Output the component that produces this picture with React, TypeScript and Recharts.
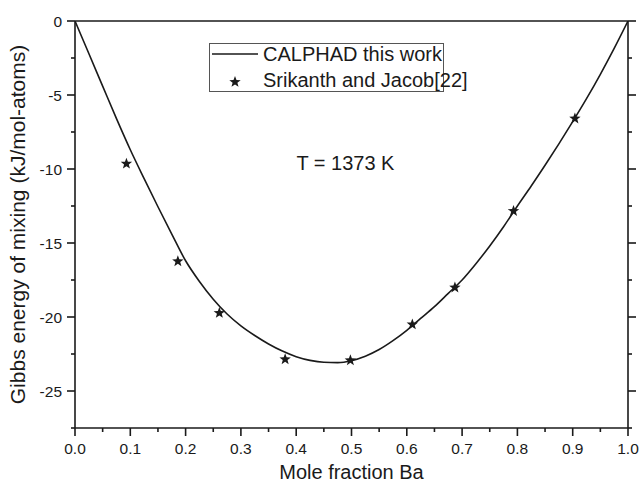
import React from "react";
import { ComposedChart, Line, Scatter, XAxis, YAxis, Legend, ReferenceDot } from "recharts";

document.body.style.margin = "0";

// CALPHAD curve
const xCalc = [
  0, 0.025, 0.05, 0.075, 0.1, 0.125, 0.15, 0.175, 0.2, 0.225, 0.25, 0.275, 0.3, 0.325,
  0.35, 0.375, 0.4, 0.425, 0.45, 0.475, 0.5, 0.525, 0.55, 0.575, 0.6, 0.625, 0.65, 0.675,
  0.7, 0.725, 0.75, 0.775, 0.8, 0.825, 0.85, 0.875, 0.9, 0.925, 0.95, 0.975, 1,
];
const gCalc = [
  0, -2.2, -4.4, -6.6, -8.7, -10.65, -12.55, -14.4, -16.2, -17.6, -18.8, -19.8, -20.6, -21.25,
  -21.82, -22.3, -22.68, -22.93, -23.06, -23.08, -22.95, -22.65, -22.2, -21.6, -20.9, -20.1, -19.3, -18.4,
  -17.5, -16.4, -15.2, -13.9, -12.5, -11.15, -9.75, -8.3, -6.8, -5.25, -3.6, -1.85, 0,
];

// Srikanth and Jacob [22]
const xExp = [0.093, 0.186, 0.261, 0.38, 0.498, 0.61, 0.687, 0.793, 0.904];
const gExp = [-9.64, -16.24, -19.73, -22.86, -22.93, -20.5, -18.01, -12.84, -6.59];

const xTicks = [
  0, 0.05, 0.1, 0.15, 0.2, 0.25, 0.3, 0.35, 0.4, 0.45, 0.5,
  0.55, 0.6, 0.65, 0.7, 0.75, 0.8, 0.85, 0.9, 0.95, 1,
];
const yTicks = [-27.5, -25, -22.5, -20, -17.5, -15, -12.5, -10, -7.5, -5, -2.5, 0];

const calcData = xCalc.map((x, i) => ({ x, y: gCalc[i] }));
const expData = xExp.map((x, i) => ({ x, y: gExp[i] }));

const FONT = "'Liberation Sans', Arial, Helvetica, sans-serif";
const INK = "#1a1a1a";
const AX = 1.6;

const isMajorX = (v: number) => Math.round(v * 100) % 10 === 0;
const isMajorY = (v: number) => Math.round(v * 10) % 50 === 0;

function BottomTick({ x, y, payload }: any) {
  const major = isMajorX(payload.value);
  return (
    <g>
      <line x1={x} x2={x} y1={y} y2={y + (major ? 8 : 4)} stroke={INK} strokeWidth={AX} />
      {major && (
        <text x={x} y={y + 26} textAnchor="middle" fontSize={15.5} fill={INK} fontFamily={FONT}>
          {payload.value.toFixed(1)}
        </text>
      )}
    </g>
  );
}

function TopTick({ x, y, payload }: any) {
  const major = isMajorX(payload.value);
  return <line x1={x} x2={x} y1={y} y2={y - (major ? 8 : 4)} stroke={INK} strokeWidth={AX} />;
}

function LeftTick({ x, y, payload }: any) {
  const major = isMajorY(payload.value);
  return (
    <g>
      <line x1={x} x2={x - (major ? 8 : 4)} y1={y} y2={y} stroke={INK} strokeWidth={AX} />
      {major && (
        <text x={x - 13} y={y} dy="0.36em" textAnchor="end" fontSize={15.5} fill={INK} fontFamily={FONT}>
          {String(payload.value)}
        </text>
      )}
    </g>
  );
}

function RightTick({ x, y, payload }: any) {
  const major = isMajorY(payload.value);
  return <line x1={x} x2={x + (major ? 8 : 4)} y1={y} y2={y} stroke={INK} strokeWidth={AX} />;
}

function starPoints(cx: number, cy: number, R: number, r: number) {
  const pts: string[] = [];
  for (let k = 0; k < 10; k++) {
    const rad = k % 2 === 0 ? R : r;
    const a = -Math.PI / 2 + (k * Math.PI) / 5;
    pts.push(`${cx + rad * Math.cos(a)},${cy + rad * Math.sin(a)}`);
  }
  return pts.join(" ");
}

const Star = ({ cx, cy }: any) => <polygon points={starPoints(cx, cy, 6, 2.5)} fill={INK} />;

function XTitle({ viewBox }: any) {
  const { x, y, width } = viewBox;
  return (
    <text x={x + width / 2} y={y + 51} textAnchor="middle" fontSize={20} fill={INK} fontFamily={FONT}>
      Mole fraction Ba
    </text>
  );
}

function YTitle({ viewBox }: any) {
  const { y, height } = viewBox;
  const cy = y + height / 2;
  return (
    <text x={25} y={cy} transform={`rotate(-90 25 ${cy})`} textAnchor="middle" fontSize={21} fill={INK} fontFamily={FONT}>
      Gibbs energy of mixing (kJ/mol-atoms)
    </text>
  );
}

function LegendBox() {
  return (
    <svg width={235} height={49} style={{ display: "block", overflow: "visible" }}>
      <rect x={0.5} y={0.5} width={234} height={48} fill="#fff" stroke="#555" strokeWidth={1} />
      <line x1={3} x2={49} y1={11} y2={11} stroke={INK} strokeWidth={1.6} />
      <text x={54} y={11} dy="0.36em" fontSize={20} fill={INK} fontFamily={FONT}>CALPHAD this work</text>
      <Star cx={26} cy={39} />
      <text x={54} y={37} dy="0.36em" fontSize={20} fill={INK} fontFamily={FONT}>Srikanth and Jacob[22]</text>
    </svg>
  );
}

function TempLabel({ viewBox }: any) {
  return (
    <text x={viewBox.x} y={viewBox.y} dy="0.36em" textAnchor="middle" fontSize={20} fill={INK} fontFamily={FONT}>
      T = 1373 K
    </text>
  );
}

export default function App() {
  return (
    <div style={{ width: 641, height: 482, background: "#fff" }}>
      <ComposedChart width={641} height={482} margin={{ top: 20, right: 12, bottom: 4, left: 0 }}>
        <XAxis
          xAxisId="b" type="number" dataKey="x" domain={[0, 1]} allowDataOverflow
          ticks={xTicks} interval={0} tickSize={0} tickMargin={0} tickLine={false}
          tick={<BottomTick />} height={50}
          axisLine={{ stroke: INK, strokeWidth: AX }}
          label={<XTitle />}
        />
        <XAxis
          xAxisId="t" orientation="top" type="number" domain={[0, 1]} allowDataOverflow
          ticks={xTicks} interval={0} tickSize={0} tickMargin={0} tickLine={false}
          tick={<TopTick />} height={1}
          axisLine={{ stroke: INK, strokeWidth: AX }}
        />
        <YAxis
          yAxisId="l" type="number" dataKey="y" domain={[-27.5, 0]} allowDataOverflow
          ticks={yTicks} interval={0} tickSize={0} tickMargin={0} tickLine={false}
          tick={<LeftTick />} width={75}
          axisLine={{ stroke: INK, strokeWidth: AX }}
          label={<YTitle />}
        />
        <YAxis
          yAxisId="r" orientation="right" type="number" domain={[-27.5, 0]} allowDataOverflow
          ticks={yTicks} interval={0} tickSize={0} tickMargin={0} tickLine={false}
          tick={<RightTick />} width={1}
          axisLine={{ stroke: INK, strokeWidth: AX }}
        />
        <Line
          xAxisId="b" yAxisId="l" data={calcData} dataKey="y" type="monotone"
          stroke={INK} strokeWidth={1.6} dot={false} activeDot={false}
          isAnimationActive={false} name="CALPHAD this work"
        />
        <Scatter
          xAxisId="b" yAxisId="l" data={expData} dataKey="y"
          shape={<Star />} isAnimationActive={false} name="Srikanth and Jacob[22]"
        />
        <ReferenceDot xAxisId="b" yAxisId="l" x={0.489} y={-9.6} r={0} stroke="none" label={<TempLabel />} />
        <Legend
          verticalAlign="middle" align="center" layout="horizontal"
          wrapperStyle={{ left: 209, top: 43, width: 235, height: 49 }}
          content={() => <LegendBox />}
        />
      </ComposedChart>
    </div>
  );
}
